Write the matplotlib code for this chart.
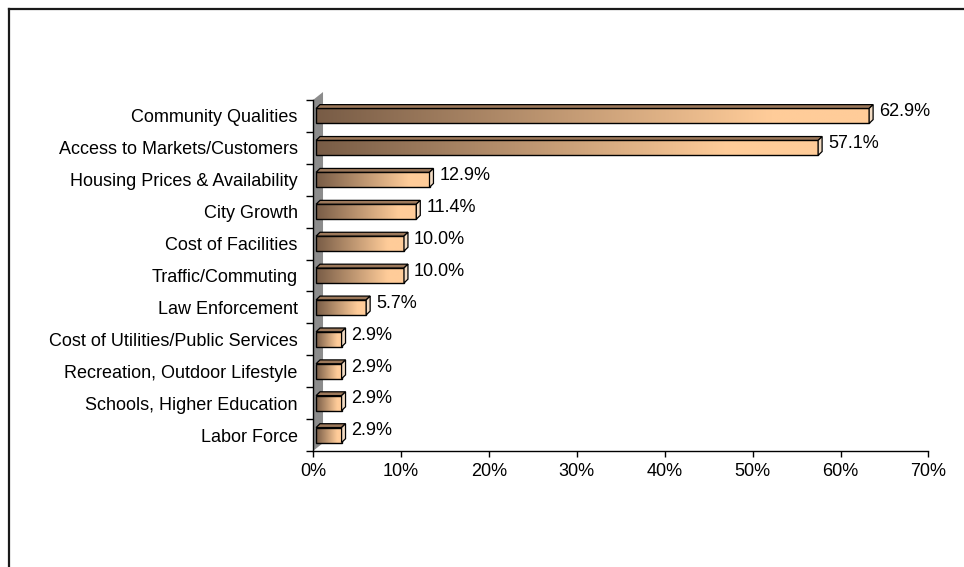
import numpy as np
import matplotlib
matplotlib.use("Agg")
import matplotlib.pyplot as plt
from matplotlib.colors import LinearSegmentedColormap
from matplotlib.patches import Polygon, Rectangle
from matplotlib.lines import Line2D

plt.rcParams.update({
    "font.family": ["Liberation Sans", "DejaVu Sans"],
    "font.size": 13,
})

categories = [
    "Community Qualities",
    "Access to Markets/Customers",
    "Housing Prices & Availability",
    "City Growth",
    "Cost of Facilities",
    "Traffic/Commuting",
    "Law Enforcement",
    "Cost of Utilities/Public Services",
    "Recreation, Outdoor Lifestyle",
    "Schools, Higher Education",
    "Labor Force",
]
values = [62.9, 57.1, 12.9, 11.4, 10.0, 10.0, 5.7, 2.9, 2.9, 2.9, 2.9]
xticks = [0, 10, 20, 30, 40, 50, 60, 70]

# brown -> peach fill along each bar
bar_cmap = LinearSegmentedColormap.from_list(
    "tan", [(0.0, "#785c46"), (0.82, "#ffcc99"), (1.0, "#ffcc99")])

fig = plt.figure(figsize=(9.64, 5.67), dpi=100)
ax = fig.add_axes([313 / 964, 116 / 567, 615.5 / 964, 351 / 567])

n = len(categories)
ypos = np.arange(n)[::-1]          # first category at the top
h = 0.47                           # front face height
x0 = 0.35                          # front face starts a little off the wall
ddx, ddy = 0.45, 0.12              # 3d depth of bars
grad = np.linspace(0, 1, 256).reshape(1, -1)

# grey side wall
wdx, wdy = 1.14, 0.25
wall = Polygon([(0, -0.5), (0, n - 0.5), (wdx, n - 0.5 + wdy), (wdx, -0.5 + wdy)],
               closed=True, facecolor="#8c8c8c", edgecolor="none",
               clip_on=False, zorder=1)
ax.add_patch(wall)

for y, v in zip(ypos, values):
    left, right = x0, x0 + v
    bot, top = y - h / 2, y + h / 2
    ax.imshow(grad, cmap=bar_cmap, extent=[left, right, bot, top],
              aspect="auto", origin="lower", zorder=3, interpolation="bilinear")
    ax.add_patch(Rectangle((left, bot), v, h, fill=False, edgecolor="black",
                           linewidth=1.0, zorder=4))
    top_face = Polygon([(left, top), (right, top), (right + ddx, top + ddy),
                        (left + ddx, top + ddy)], closed=True,
                       facecolor="#9c785a", edgecolor="black", linewidth=0.9,
                       zorder=4, clip_on=False)
    side_face = Polygon([(right, bot), (right, top), (right + ddx, top + ddy),
                         (right + ddx, bot + ddy)], closed=True,
                        facecolor="#f3dcc4", edgecolor="black", linewidth=0.9,
                        zorder=4, clip_on=False)
    ax.add_patch(top_face)
    ax.add_patch(side_face)
    ax.annotate(f"{v:.1f}%", (right + ddx, y), xytext=(4.3, 3),
                textcoords="offset points", ha="left", va="center",
                fontsize=13, color="black", zorder=5)

ax.set_xlim(0, 70)
ax.set_ylim(-0.5, n - 0.5)
ax.set_xticks(xticks)
ax.set_xticklabels([f"{t}%" for t in xticks])
ax.set_yticks(ypos)
ax.set_yticklabels(categories)
ax.set_yticks(np.arange(n + 1) - 0.5, minor=True)
ax.tick_params(axis="y", which="major", length=0, pad=11)
ax.tick_params(axis="y", which="minor", length=5, width=1, color="black")
ax.tick_params(axis="x", length=4, width=1, color="black", pad=5)

for s in ("top", "right"):
    ax.spines[s].set_visible(False)
for s in ("left", "bottom"):
    ax.spines[s].set_color("black")
    ax.spines[s].set_linewidth(1.0)
    ax.spines[s].set_zorder(2)
ax.set_facecolor("none")

# outer chart frame
fig.add_artist(Line2D([8.5 / 964, 8.5 / 964], [0, 1 - 8.5 / 567],
                      transform=fig.transFigure, color="#1a1a1a", linewidth=1.6))
fig.add_artist(Line2D([8.5 / 964, 1], [1 - 8.5 / 567, 1 - 8.5 / 567],
                      transform=fig.transFigure, color="#1a1a1a", linewidth=1.6))

fig.savefig("out.png", dpi=100, facecolor="white")
